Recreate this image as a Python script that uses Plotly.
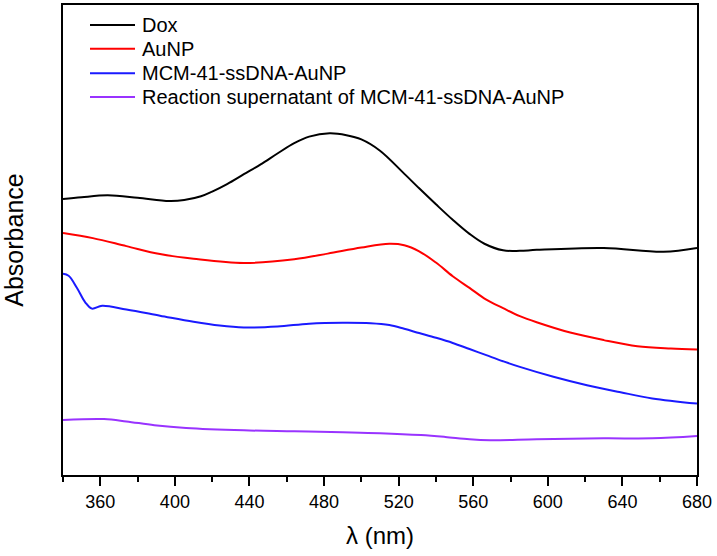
import plotly.graph_objects as go

# Wavelength (nm) / absorbance (a.u.)
dox_x = [340, 350, 364, 380, 397, 405, 414, 420, 428, 437, 446, 455, 464, 472, 483, 492, 500, 510, 522, 531, 540, 549, 558, 566, 576, 585, 594, 630, 662, 680]
dox_y = [0.587, 0.591, 0.595, 0.590, 0.583, 0.585, 0.593, 0.603, 0.619, 0.640, 0.661, 0.684, 0.706, 0.720, 0.727, 0.723, 0.714, 0.690, 0.645, 0.610, 0.576, 0.543, 0.513, 0.492, 0.478, 0.477, 0.479, 0.483, 0.475, 0.483]

aunp_x = [340, 356, 374, 392, 410, 437, 464, 482, 500, 515, 523, 531, 540, 549, 558, 567, 576, 585, 594, 612, 630, 648, 666, 680]
aunp_y = [0.515, 0.504, 0.487, 0.470, 0.460, 0.451, 0.459, 0.471, 0.484, 0.492, 0.489, 0.476, 0.452, 0.423, 0.398, 0.373, 0.355, 0.338, 0.325, 0.303, 0.287, 0.274, 0.269, 0.267]

mcm_x = [340, 343, 347.5, 352, 355.5, 361, 374, 392, 410, 424, 437, 455, 472, 490, 505, 515, 523, 531, 540, 549, 558, 567, 576, 585, 603, 621, 639, 656, 680]
mcm_y = [0.428, 0.424, 0.398, 0.367, 0.354, 0.360, 0.352, 0.339, 0.326, 0.318, 0.314, 0.316, 0.322, 0.324, 0.323, 0.319, 0.311, 0.302, 0.292, 0.281, 0.268, 0.255, 0.242, 0.230, 0.209, 0.191, 0.176, 0.163, 0.152]

sup_x = [340, 362, 374, 389, 406, 437, 464, 490, 510, 532, 545, 558, 569, 594, 630, 656, 680]
sup_y = [0.117, 0.119, 0.114, 0.106, 0.100, 0.095, 0.093, 0.091, 0.089, 0.085, 0.081, 0.076, 0.074, 0.076, 0.078, 0.078, 0.083]

names = ["Dox", "AuNP", "MCM-41-ssDNA-AuNP", "Reaction supernatant of MCM-41-ssDNA-AuNP"]
colors = ["#000000", "#ff0000", "#1a1aff", "#9933ff"]
xs_all = [dox_x, aunp_x, mcm_x, sup_x]
ys_all = [dox_y, aunp_y, mcm_y, sup_y]

fig = go.Figure()
for name, xs, ys, col in zip(names, xs_all, ys_all, colors):
    fig.add_trace(go.Scatter(x=xs, y=ys, name=name, mode="lines", showlegend=False,
                             line=dict(color=col, width=2, shape="spline", smoothing=1.0)))

# Legend drawn in paper coordinates (plot area: x 63..697 px, y 3..475 px)
PL, PW, PB, PH = 63, 634, 475, 472
legend_rows_px = [23, 47, 71.5, 95.5]
for name, col, ypx in zip(names, colors, legend_rows_px):
    yp = (PB - ypx) / PH
    fig.add_shape(type="line", xref="paper", yref="paper",
                  x0=(90 - PL) / PW, x1=(135 - PL) / PW, y0=yp, y1=yp,
                  line=dict(color=col, width=2))
    fig.add_annotation(xref="paper", yref="paper", x=(140 - PL) / PW, y=yp,
                       xanchor="left", yanchor="middle", text=name, showarrow=False,
                       font=dict(size=20, color="black"))

fig.update_layout(
    width=717, height=556,
    margin=dict(l=63, r=20, t=3, b=81),
    paper_bgcolor="white", plot_bgcolor="white",
    font=dict(family="Liberation Sans, Arial, sans-serif", color="black"),
    showlegend=False,
)
fig.update_xaxes(
    range=[340, 680], showline=True, linecolor="black", linewidth=2, mirror=True,
    showgrid=False, zeroline=False,
    ticks="outside", tick0=360, dtick=40, ticklen=9, tickwidth=2, tickcolor="black",
    tickfont=dict(size=18),
    minor=dict(ticks="outside", tick0=340, dtick=20, ticklen=5, tickwidth=2, tickcolor="black", showgrid=False),
    title=dict(text="λ (nm)", font=dict(size=24), standoff=17),
)
fig.update_yaxes(
    range=[0, 1], showline=True, linecolor="black", linewidth=2, mirror=True,
    showgrid=False, zeroline=False, showticklabels=False, ticks="",
    title=dict(text="Absorbance", font=dict(size=25), standoff=36),
)

fig.write_html("out.html", config={"displayModeBar": False},
               post_script="document.body.style.margin='0';")
